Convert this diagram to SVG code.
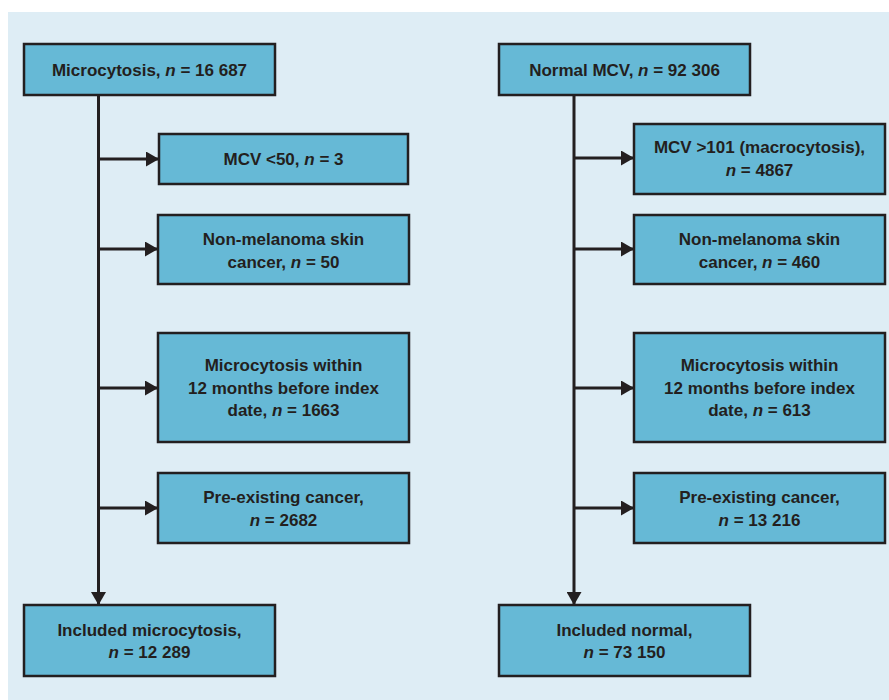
<svg xmlns="http://www.w3.org/2000/svg" width="889" height="700" viewBox="0 0 889 700">
<defs>
<style>
.box{fill:#66b9d6;stroke:#231f20;stroke-width:2.5}
.t{font-family:"Liberation Sans",Arial,sans-serif;font-weight:bold;font-size:17px;fill:#231f20;text-anchor:middle}
.ln{stroke:#231f20;stroke-width:3;fill:none}
</style>
<marker id="ah" markerWidth="13" markerHeight="15" refX="13" refY="7.5" orient="auto" markerUnits="userSpaceOnUse">
<path d="M0,0 L13,7.5 L0,15 Z" fill="#231f20"/>
</marker>
</defs>
<rect x="0" y="0" width="889" height="700" fill="#ffffff"/>
<rect x="8" y="12" width="881" height="688" fill="#deedf5"/>
<g id="connectors">
<line class="ln" x1="98.5" y1="95" x2="98.5" y2="605" marker-end="url(#ah)"/>
<line class="ln" x1="98.5" y1="159" x2="159" y2="159" marker-end="url(#ah)"/>
<line class="ln" x1="98.5" y1="249" x2="158" y2="249" marker-end="url(#ah)"/>
<line class="ln" x1="98.5" y1="388" x2="158" y2="388" marker-end="url(#ah)"/>
<line class="ln" x1="98.5" y1="508" x2="158" y2="508" marker-end="url(#ah)"/>
<line class="ln" x1="574" y1="95" x2="574" y2="605" marker-end="url(#ah)"/>
<line class="ln" x1="574" y1="158" x2="634" y2="158" marker-end="url(#ah)"/>
<line class="ln" x1="574" y1="249" x2="634" y2="249" marker-end="url(#ah)"/>
<line class="ln" x1="574" y1="388" x2="634" y2="388" marker-end="url(#ah)"/>
<line class="ln" x1="574" y1="508" x2="634" y2="508" marker-end="url(#ah)"/>
</g>
<g id="micro">
<rect class="box" x="24" y="44" width="251" height="51"/>
<text class="t" x="149.5" y="76">Microcytosis, <tspan font-style="italic">n</tspan> = 16 687</text>
</g>
<g id="mcv50">
<rect class="box" x="159" y="134" width="249" height="50"/>
<text class="t" x="283.5" y="165">MCV &lt;50, <tspan font-style="italic">n</tspan> = 3</text>
</g>
<g id="nmsc-l">
<rect class="box" x="158" y="215" width="251" height="69"/>
<text class="t" x="283.5" y="245">Non-melanoma skin</text>
<text class="t" x="283.5" y="268">cancer, <tspan font-style="italic">n</tspan> = 50</text>
</g>
<g id="mw-l">
<rect class="box" x="158" y="333" width="251" height="109"/>
<text class="t" x="283.5" y="371">Microcytosis within</text>
<text class="t" x="283.5" y="394">12 months before index</text>
<text class="t" x="283.5" y="416">date, <tspan font-style="italic">n</tspan> = 1663</text>
</g>
<g id="pre-l">
<rect class="box" x="158" y="473" width="251" height="70"/>
<text class="t" x="283.5" y="503">Pre-existing cancer,</text>
<text class="t" x="283.5" y="526"><tspan font-style="italic">n</tspan> = 2682</text>
</g>
<g id="inc-l">
<rect class="box" x="24" y="605" width="251" height="71"/>
<text class="t" x="149.5" y="636">Included microcytosis,</text>
<text class="t" x="149.5" y="658"><tspan font-style="italic">n</tspan> = 12 289</text>
</g>
<g id="normal">
<rect class="box" x="499" y="44" width="251" height="51"/>
<text class="t" x="624.5" y="76">Normal MCV, <tspan font-style="italic">n</tspan> = 92 306</text>
</g>
<g id="mcv101">
<rect class="box" x="634" y="124" width="251" height="70"/>
<text class="t" x="759.5" y="153">MCV &gt;101 (macrocytosis),</text>
<text class="t" x="759.5" y="176"><tspan font-style="italic">n</tspan> = 4867</text>
</g>
<g id="nmsc-r">
<rect class="box" x="634" y="215" width="251" height="69"/>
<text class="t" x="759.5" y="245">Non-melanoma skin</text>
<text class="t" x="759.5" y="268">cancer, <tspan font-style="italic">n</tspan> = 460</text>
</g>
<g id="mw-r">
<rect class="box" x="634" y="333" width="251" height="109"/>
<text class="t" x="759.5" y="371">Microcytosis within</text>
<text class="t" x="759.5" y="394">12 months before index</text>
<text class="t" x="759.5" y="416">date, <tspan font-style="italic">n</tspan> = 613</text>
</g>
<g id="pre-r">
<rect class="box" x="634" y="473" width="251" height="70"/>
<text class="t" x="759.5" y="503">Pre-existing cancer,</text>
<text class="t" x="759.5" y="526"><tspan font-style="italic">n</tspan> = 13 216</text>
</g>
<g id="inc-r">
<rect class="box" x="499" y="605" width="251" height="71"/>
<text class="t" x="624.5" y="636">Included normal,</text>
<text class="t" x="624.5" y="658"><tspan font-style="italic">n</tspan> = 73 150</text>
</g>
</svg>
